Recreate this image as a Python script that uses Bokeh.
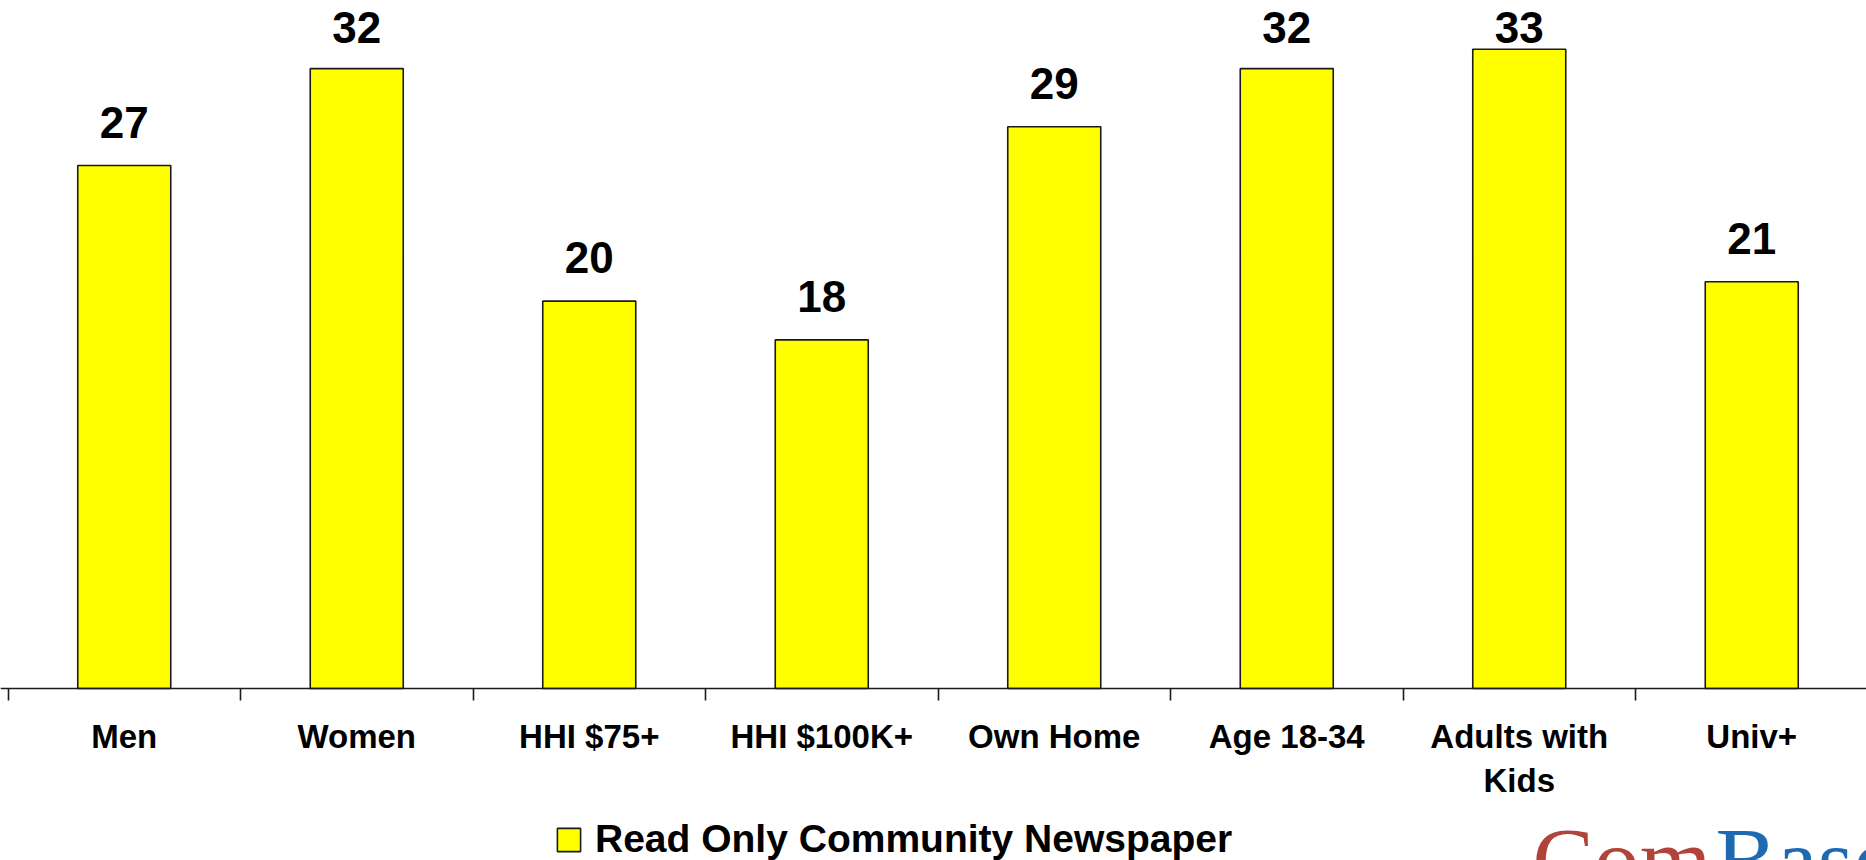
from bokeh.plotting import figure
from bokeh.models import (ColumnDataSource, Range1d, FixedTicker, LabelSet, Legend,
                          LegendItem, Label)
from bokeh.core.properties import value
from bokeh.embed import file_html
from bokeh.resources import INLINE

# ---- data ----
categories = ["Men", "Women", "HHI $75+", "HHI $100K+", "Own Home",
              "Age 18-34", "Adults with\nKids", "Univ+"]
values = [27, 32, 20, 18, 29, 32, 33, 21]
series_name = "Read Only Community Newspaper"
logo_parts = ["Com", "Base"]

W, H = 1866, 860
px_per_cat = 232.5
px_per_unit = 19.37
base_y = 688      # pixel row of the baseline
left_px = 7.5     # pixel column of the first category boundary
label_gap = 28    # px between bar top and value label baseline
label_top_px = 42 # highest allowed label baseline (labels are kept inside the chart)

centers = [i + 0.5 for i in range(len(categories))]
boundaries = [i for i in range(len(categories) + 1)]
label_cap = (base_y - label_top_px) / px_per_unit
label_y = [min(v + label_gap / px_per_unit, label_cap) for v in values]

src = ColumnDataSource(dict(x=centers, top=values, ly=label_y,
                            label=[str(v) for v in values]))

p = figure(width=W, height=H, output_backend="svg", toolbar_location=None,
           x_range=Range1d(-left_px / px_per_cat, (W - left_px) / px_per_cat),
           y_range=Range1d(-(H - base_y) / px_per_unit, base_y / px_per_unit),
           y_axis_location=None,
           min_border_left=0, min_border_right=0, min_border_top=0,
           min_border_bottom=0)
p.outline_line_color = None
p.xgrid.visible = False
p.ygrid.visible = False
p.background_fill_color = "white"
p.border_fill_color = "white"

bars = p.vbar(x="x", top="top", width=0.4, bottom=0, source=src,
              fill_color="#FFFF00", line_color="#1a1a1a", line_width=1.6)

labels = LabelSet(x="x", y="ly", text="label", source=src,
                  text_align="center", text_baseline="alphabetic",
                  text_font=value("Liberation Sans"),
                  text_font_style="bold", text_font_size="44px",
                  text_color="black")
p.add_layout(labels)

ax = p.xaxis[0]
ax.fixed_location = 0
ax.ticker = FixedTicker(ticks=centers, minor_ticks=boundaries)
ax.major_label_overrides = {c: lab for c, lab in zip(centers, categories)}
ax.major_tick_line_color = None
ax.major_tick_out = 0
ax.major_tick_in = 0
ax.minor_tick_out = 12
ax.minor_tick_in = 0
ax.minor_tick_line_color = "#1a1a1a"
ax.minor_tick_line_width = 1.6
ax.axis_line_color = "#1a1a1a"
ax.axis_line_width = 1.6
ax.major_label_text_font = "Liberation Sans"
ax.major_label_text_font_style = "bold"
ax.major_label_text_font_size = "33px"
ax.major_label_text_color = "black"
ax.major_label_standoff = 17

legend = Legend(items=[LegendItem(label=series_name, renderers=[bars])],
                location=(554, -1), orientation="horizontal",
                label_text_font="Liberation Sans", label_text_font_style="bold",
                label_text_font_size="39px", label_text_color="black",
                glyph_width=29, glyph_height=29, label_standoff=12,
                border_line_color=None, background_fill_alpha=0,
                padding=0, margin=0, spacing=0)
p.add_layout(legend)

# logo text (partially cut off at the bottom right)
logo_y = (base_y - 808) / px_per_unit
p.add_layout(Label(x=(1532 - left_px) / px_per_cat, y=logo_y, text=logo_parts[0],
                   text_font="Liberation Serif", text_font_size="92px",
                   text_color="#B0433A", text_baseline="top"))
p.add_layout(Label(x=(1715 - left_px) / px_per_cat, y=logo_y, text=logo_parts[1],
                   text_font="Liberation Serif", text_font_size="92px",
                   text_color="#1D6AB3", text_baseline="top"))

open("out.html", "w").write(file_html(p, INLINE))
